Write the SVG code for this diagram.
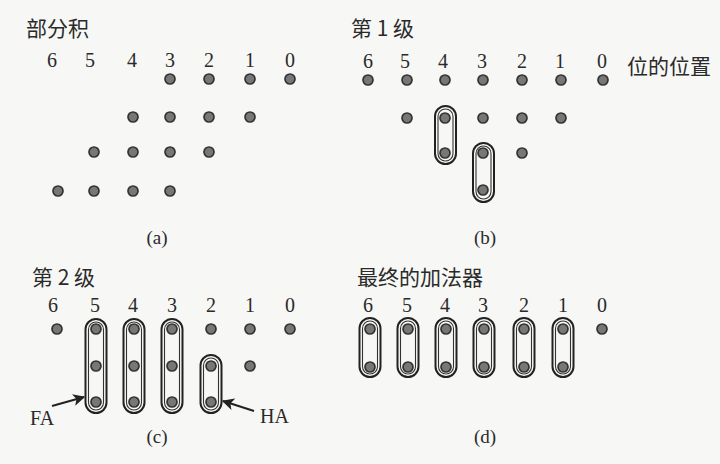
<svg xmlns="http://www.w3.org/2000/svg" width="720" height="464" viewBox="0 0 720 464">
<defs>
<style>
.bg{fill:#f7f7f5}
.t{font-family:"Noto Sans CJK SC","Noto Sans CJK JP",sans-serif;font-size:21px;fill:#2a2a2a}
.n{font-family:"Liberation Serif",serif;font-size:20px;fill:#2a2a2a;text-anchor:middle}
.c{font-family:"Liberation Serif",serif;font-size:19px;fill:#2a2a2a;text-anchor:middle}
.lab{font-family:"Liberation Serif",serif;font-size:20px;fill:#2a2a2a}
.d{fill:#777;stroke:#333;stroke-width:1.7}
.oo{fill:none;stroke:#222;stroke-width:2}
.oi{fill:none;stroke:#333;stroke-width:1.1}
.ar{stroke:#222;stroke-width:2;fill:none}
</style>
<marker id="ah" viewBox="0 0 10 10" refX="9" refY="5" markerWidth="6" markerHeight="6" orient="auto" markerUnits="strokeWidth">
<path d="M0,0 L10,5 L0,10 L2.5,5 z" fill="#222"/>
</marker>
</defs>
<rect class="bg" x="0" y="0" width="720" height="464"/>

<g id="panel-a">
<text class="t" x="26" y="36">部分积</text>
<text class="n" x="52" y="67">6</text><text class="n" x="90" y="67">5</text><text class="n" x="132" y="67">4</text><text class="n" x="170" y="67">3</text><text class="n" x="209" y="67">2</text><text class="n" x="250" y="67">1</text><text class="n" x="290" y="67">0</text>
<circle class="d" cx="170" cy="79" r="5"/><circle class="d" cx="209" cy="79" r="5"/><circle class="d" cx="250" cy="79" r="5"/><circle class="d" cx="290" cy="79" r="5"/>
<circle class="d" cx="133" cy="117" r="5"/><circle class="d" cx="170" cy="117" r="5"/><circle class="d" cx="209" cy="117" r="5"/><circle class="d" cx="250" cy="117" r="5"/>
<circle class="d" cx="94" cy="152" r="5"/><circle class="d" cx="133" cy="152" r="5"/><circle class="d" cx="170" cy="152" r="5"/><circle class="d" cx="209" cy="152" r="5"/>
<circle class="d" cx="58" cy="191" r="5"/><circle class="d" cx="94" cy="191" r="5"/><circle class="d" cx="133" cy="191" r="5"/><circle class="d" cx="170" cy="191" r="5"/>
<text class="c" x="157" y="244">(a)</text>
</g>

<g id="panel-b">
<text class="t" x="351" y="36">第 1 级</text>
<text class="n" x="368" y="68">6</text><text class="n" x="405" y="68">5</text><text class="n" x="443" y="68">4</text><text class="n" x="482" y="68">3</text><text class="n" x="522" y="68">2</text><text class="n" x="560" y="68">1</text><text class="n" x="602" y="68">0</text>
<text class="t" x="627" y="74">位的位置</text>
<circle class="d" cx="368" cy="80" r="5"/><circle class="d" cx="407" cy="80" r="5"/><circle class="d" cx="445" cy="80" r="5"/><circle class="d" cx="483" cy="80" r="5"/><circle class="d" cx="522" cy="80" r="5"/><circle class="d" cx="561" cy="80" r="5"/><circle class="d" cx="603" cy="80" r="5"/>
<circle class="d" cx="407" cy="118" r="5"/><circle class="d" cx="445" cy="118" r="5"/><circle class="d" cx="483" cy="118" r="5"/><circle class="d" cx="522" cy="118" r="5"/><circle class="d" cx="561" cy="118" r="5"/>
<circle class="d" cx="445" cy="153" r="5"/><circle class="d" cx="483" cy="153" r="5"/><circle class="d" cx="522" cy="153" r="5"/>
<circle class="d" cx="483" cy="190" r="5"/>
<rect class="oo" x="435" y="106" width="21" height="58" rx="10.5"/><rect class="oi" x="438" y="109" width="15" height="52" rx="7.5"/>
<rect class="oo" x="473" y="143" width="21" height="59" rx="10.5"/><rect class="oi" x="476" y="146" width="15" height="53" rx="7.5"/>
<text class="c" x="485" y="244">(b)</text>
</g>

<g id="panel-c">
<text class="t" x="32" y="285">第 2 级</text>
<text class="n" x="53" y="312">6</text><text class="n" x="95" y="312">5</text><text class="n" x="133" y="312">4</text><text class="n" x="172" y="312">3</text><text class="n" x="211" y="312">2</text><text class="n" x="250" y="312">1</text><text class="n" x="290" y="312">0</text>
<circle class="d" cx="57" cy="329" r="5"/><circle class="d" cx="96" cy="329" r="5"/><circle class="d" cx="134" cy="329" r="5"/><circle class="d" cx="172" cy="329" r="5"/><circle class="d" cx="211" cy="329" r="5"/><circle class="d" cx="250" cy="329" r="5"/><circle class="d" cx="290" cy="329" r="5"/>
<circle class="d" cx="96" cy="366" r="5"/><circle class="d" cx="134" cy="366" r="5"/><circle class="d" cx="172" cy="366" r="5"/><circle class="d" cx="211" cy="366" r="5"/><circle class="d" cx="250" cy="366" r="5"/>
<circle class="d" cx="96" cy="402" r="5"/><circle class="d" cx="134" cy="402" r="5"/><circle class="d" cx="172" cy="402" r="5"/><circle class="d" cx="211" cy="402" r="5"/>
<rect class="oo" x="85.5" y="319" width="21" height="94" rx="10.5"/><rect class="oi" x="88.5" y="322" width="15" height="88" rx="7.5"/>
<rect class="oo" x="123.5" y="319" width="21" height="94" rx="10.5"/><rect class="oi" x="126.5" y="322" width="15" height="88" rx="7.5"/>
<rect class="oo" x="161.5" y="319" width="21" height="94" rx="10.5"/><rect class="oi" x="164.5" y="322" width="15" height="88" rx="7.5"/>
<rect class="oo" x="200.5" y="355" width="21" height="58" rx="10.5"/><rect class="oi" x="203.5" y="358" width="15" height="52" rx="7.5"/>
<text class="lab" x="30" y="425">FA</text>
<text class="lab" x="260" y="423">HA</text>
<text class="c" x="157" y="443">(c)</text>
</g>

<g id="panel-d">
<text class="t" x="357" y="285">最终的加法器</text>
<text class="n" x="368" y="312">6</text><text class="n" x="407" y="312">5</text><text class="n" x="445" y="312">4</text><text class="n" x="483" y="312">3</text><text class="n" x="524" y="312">2</text><text class="n" x="563" y="312">1</text><text class="n" x="602" y="312">0</text>
<circle class="d" cx="370" cy="329" r="5"/><circle class="d" cx="408" cy="329" r="5"/><circle class="d" cx="446" cy="329" r="5"/><circle class="d" cx="484" cy="329" r="5"/><circle class="d" cx="524" cy="329" r="5"/><circle class="d" cx="563" cy="329" r="5"/><circle class="d" cx="602" cy="329" r="5"/>
<circle class="d" cx="370" cy="367" r="5"/><circle class="d" cx="408" cy="367" r="5"/><circle class="d" cx="446" cy="367" r="5"/><circle class="d" cx="484" cy="367" r="5"/><circle class="d" cx="524" cy="367" r="5"/><circle class="d" cx="563" cy="367" r="5"/>
<rect class="oo" x="359.5" y="318" width="21" height="59" rx="10.5"/><rect class="oi" x="362.5" y="321" width="15" height="53" rx="7.5"/>
<rect class="oo" x="397.5" y="318" width="21" height="59" rx="10.5"/><rect class="oi" x="400.5" y="321" width="15" height="53" rx="7.5"/>
<rect class="oo" x="435.5" y="318" width="21" height="59" rx="10.5"/><rect class="oi" x="438.5" y="321" width="15" height="53" rx="7.5"/>
<rect class="oo" x="473.5" y="318" width="21" height="59" rx="10.5"/><rect class="oi" x="476.5" y="321" width="15" height="53" rx="7.5"/>
<rect class="oo" x="513.5" y="318" width="21" height="59" rx="10.5"/><rect class="oi" x="516.5" y="321" width="15" height="53" rx="7.5"/>
<rect class="oo" x="552.5" y="318" width="21" height="59" rx="10.5"/><rect class="oi" x="555.5" y="321" width="15" height="53" rx="7.5"/>
<text class="c" x="485" y="443">(d)</text>
</g>

<g id="connectors">
<line class="ar" x1="52" y1="406" x2="84" y2="397" marker-end="url(#ah)"/>
<line class="ar" x1="254" y1="411" x2="223" y2="401" marker-end="url(#ah)"/>
</g>
</svg>
